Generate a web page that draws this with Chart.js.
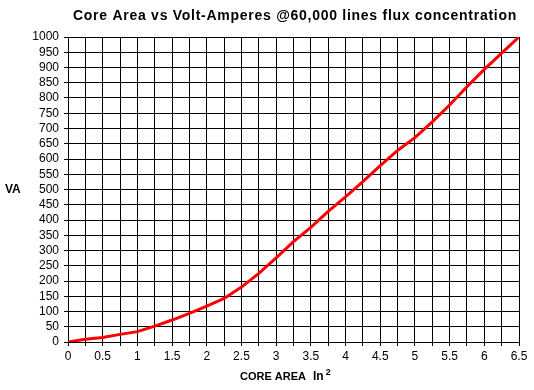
<!DOCTYPE html>
<html>
<head>
<meta charset="utf-8">
<script src="https://cdn.jsdelivr.net/npm/chart.js@4"></script>
<style>
    html, body { margin: 0; padding: 0; background: #fff; }
    #wrap { width: 534px; height: 390px; position: relative; }
</style>
</head>
<body>
<div id="wrap"><canvas id="coreChart" width="534" height="390"></canvas></div>
<script>
// core area (in^2) vs volt-amperes
const coreArea = [0, 0.25, 0.5, 0.75, 1, 1.25, 1.5, 1.75, 2, 2.25, 2.5, 2.75, 3, 3.25, 3.5, 3.75, 4, 4.25, 4.5, 4.75, 5, 5.25, 5.5, 5.75, 6, 6.25, 6.5];
const voltAmps = [0, 9, 15, 25, 34, 52, 72, 94, 118, 143, 180, 225, 276, 329, 376, 428, 476, 526, 578, 628, 670, 722, 777, 837, 894, 947, 1000];
const xLabelStep = 0.5;

const chartTitle = 'Core Area vs Volt-Amperes @60,000 lines flux concentration';
const yTitle = 'VA';
const xTitle = 'CORE AREA';
const xUnit = 'In';

const FONT = '"Liberation Sans", Arial, sans-serif';

// draws the title, axis names and the superscript unit
const textPlugin = {
    id: 'textPlugin',
    afterDraw(chart) {
        const ctx = chart.ctx;
        const area = chart.chartArea;
        ctx.save();
        ctx.fillStyle = '#000';
        ctx.textBaseline = 'middle';

        // title, stretched to the width of the original
        ctx.font = 'bold 14px ' + FONT;
        ctx.letterSpacing = '0px';
        const w0 = ctx.measureText(chartTitle).width;
        const spacing = Math.max(0, (444 - w0) / chartTitle.length);
        ctx.letterSpacing = spacing + 'px';
        ctx.textAlign = 'left';
        ctx.fillText(chartTitle, 73, 16);

        // y title
        ctx.letterSpacing = '0px';
        ctx.font = 'bold 12px ' + FONT;
        ctx.fillText(yTitle, 5, (area.top + area.bottom) / 2);

        // x title with squared unit
        ctx.font = 'bold 11px ' + FONT;
        const tw = ctx.measureText(xTitle).width;
        ctx.letterSpacing = Math.max(0, (63 - tw) / xTitle.length) + 'px';
        ctx.fillText(xTitle, 240, 377);
        ctx.letterSpacing = '0px';
        ctx.font = 'bold 12px ' + FONT;
        ctx.fillText(xUnit, 313, 377);
        const uw = ctx.measureText(xUnit).width;
        ctx.font = 'bold 9px ' + FONT;
        ctx.fillText('2', 313 + uw + 2, 373);
        ctx.restore();
    }
};

new Chart(document.getElementById('coreChart'), {
    type: 'line',
    data: {
        labels: coreArea,
        datasets: [{
            data: coreArea.map((x, i) => ({ x: x, y: voltAmps[i] })),
            borderColor: '#ff0000',
            borderWidth: 3,
            pointRadius: 0,
            tension: 0,
            fill: false
        }]
    },
    options: {
        responsive: false,
        animation: false,
        devicePixelRatio: 1,
        layout: { padding: { top: 37, right: 15, left: 0, bottom: 0 } },
        plugins: {
            legend: { display: false },
            title: { display: false },
            tooltip: { enabled: false }
        },
        scales: {
            x: {
                type: 'linear',
                min: 0,
                max: 6.5,
                afterFit: (s) => { s.height = 48; },
                grid: { color: '#000', lineWidth: 1, tickLength: 4, drawOnChartArea: true },
                border: { color: '#000', width: 1 },
                ticks: {
                    stepSize: 0.25,
                    autoSkip: false,
                    maxRotation: 0,
                    padding: 3,
                    color: '#000',
                    font: { family: FONT, size: 12 },
                    callback: (v) => (Math.abs(v / xLabelStep - Math.round(v / xLabelStep)) < 1e-6 ? String(v) : '')
                }
            },
            y: {
                min: 0,
                max: 1000,
                afterFit: (s) => { s.width = 68; },
                grid: { color: '#000', lineWidth: 1, tickLength: 4 },
                border: { color: '#000', width: 1 },
                ticks: {
                    stepSize: 50,
                    autoSkip: false,
                    padding: 5,
                    color: '#000',
                    font: { family: FONT, size: 12 },
                    callback: (v) => String(v)
                }
            }
        }
    },
    plugins: [textPlugin]
});
</script>
</body>
</html>
